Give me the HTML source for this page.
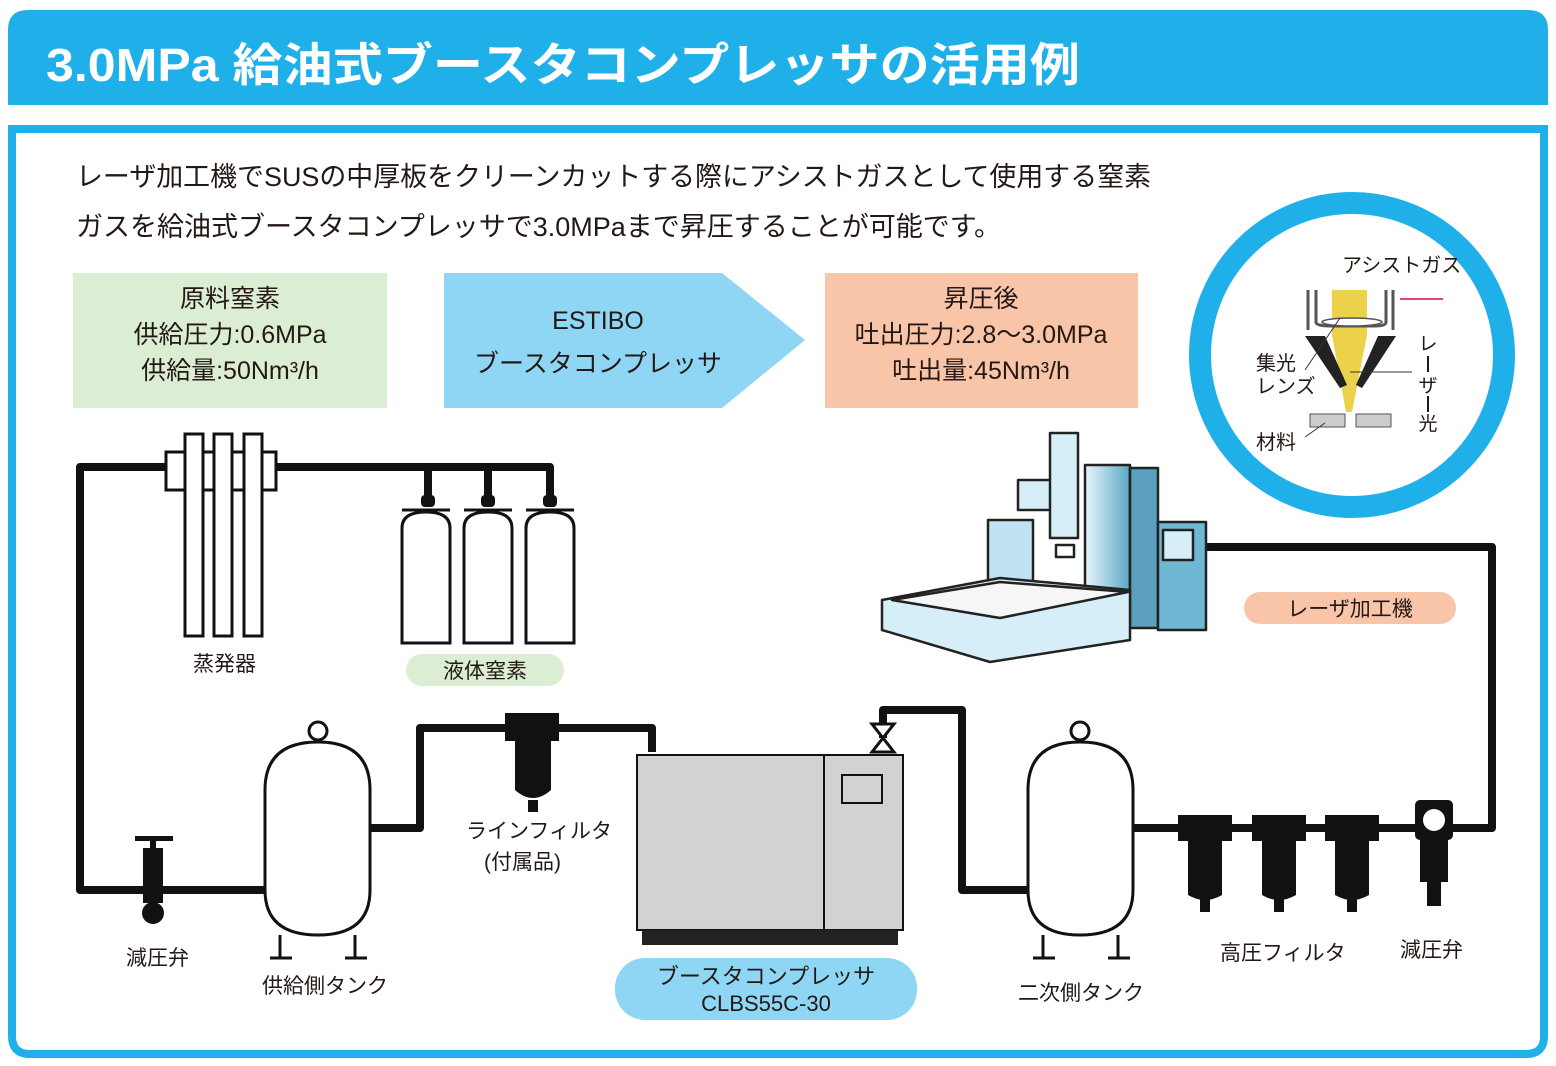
<!DOCTYPE html>
<html><head><meta charset="utf-8"><style>
body{margin:0;background:#fff}
svg{display:block}
text{font-family:"Liberation Sans","Noto Sans CJK JP",sans-serif}
</style></head><body>
<svg width="1556" height="1066" viewBox="0 0 1556 1066" xmlns="http://www.w3.org/2000/svg">
<defs>
<linearGradient id="mg" x1="0" x2="1"><stop offset="0" stop-color="#e8f6fc"/><stop offset="1" stop-color="#5aa6c4"/></linearGradient>
</defs>
<path d="M8 30 Q8 10 28 10 H1528 Q1548 10 1548 30 V105 H8 Z" fill="#1fb0ea"/>
<text x="46" y="81" font-size="46" font-weight="bold" fill="#fff" textLength="1034" lengthAdjust="spacingAndGlyphs">3.0MPa 給油式ブースタコンプレッサの活用例</text>
<path d="M12 129 H1544 V1036 Q1544 1054 1526 1054 H30 Q12 1054 12 1036 Z" fill="none" stroke="#1fb0ea" stroke-width="8"/>
<text x="76" y="186" font-size="27" fill="#231815" textLength="1075" lengthAdjust="spacingAndGlyphs">レーザ加工機でSUSの中厚板をクリーンカットする際にアシストガスとして使用する窒素</text>
<text x="76" y="236" font-size="27" fill="#231815" textLength="925" lengthAdjust="spacingAndGlyphs">ガスを給油式ブースタコンプレッサで3.0MPaまで昇圧することが可能です。</text>
<rect x="73" y="273" width="314" height="135" fill="#dbedd3"/>
<text font-size="25" fill="#231815" text-anchor="middle"><tspan x="230" y="307">原料窒素</tspan><tspan x="230" y="343">供給圧力:0.6MPa</tspan><tspan x="230" y="379">供給量:50Nm³/h</tspan></text>
<path d="M444 273 H722 L805 340 L722 408 H444 Z" fill="#8fd6f5"/>
<text font-size="25" fill="#231815" text-anchor="middle"><tspan x="598" y="329">ESTIBO</tspan><tspan x="598" y="372">ブースタコンプレッサ</tspan></text>
<rect x="825" y="273" width="313" height="135" fill="#f9c5a8"/>
<text font-size="25" fill="#231815" text-anchor="middle"><tspan x="981" y="307">昇圧後</tspan><tspan x="981" y="343">吐出圧力:2.8〜3.0MPa</tspan><tspan x="981" y="379">吐出量:45Nm³/h</tspan></text>
<circle cx="1352" cy="355" r="152" fill="#fff" stroke="#1fb0ea" stroke-width="22"/>
<text x="1342" y="272" font-size="20" fill="#231815">アシストガス</text>
<polygon points="1332,290 1367,290 1367,335 1352,412 1346,412 1332,335" fill="#ecd14a"/>
<path d="M1308 290 V330 M1316 290 V322 Q1316 326 1330 326 H1375 Q1386 326 1386 322 V290 M1393 290 V330" stroke="#555" stroke-width="3" fill="none"/>
<ellipse cx="1352" cy="322" rx="30" ry="4" fill="#fff" stroke="#555" stroke-width="1.5"/>
<polygon points="1305,336 1325,336 1347,385 1340,388" fill="#222"/>
<polygon points="1378,336 1396,336 1362,388 1356,385" fill="#222"/>
<line x1="1400" y1="299" x2="1443" y2="299" stroke="#e0408a" stroke-width="2"/>
<rect x="1310" y="414" width="35" height="13" fill="#ccc" stroke="#555"/>
<rect x="1356" y="414" width="35" height="13" fill="#ccc" stroke="#555"/>
<text x="1256" y="370" font-size="20" fill="#231815">集光</text>
<text x="1256" y="393" font-size="20" fill="#231815">レンズ</text>
<text x="1256" y="449" font-size="20" fill="#231815">材料</text>
<line x1="1305" y1="370" x2="1340" y2="318" stroke="#333"/>
<line x1="1305" y1="437" x2="1325" y2="423" stroke="#333"/>
<line x1="1350" y1="372" x2="1412" y2="372" stroke="#333"/>
<text font-size="19" fill="#231815" text-anchor="middle"><tspan x="1428" y="350">レ</tspan><tspan x="1428" y="392">ザ</tspan><tspan x="1428" y="430">光</tspan></text>
<path d="M1428 356 V372 M1428 396 V412" stroke="#231815" stroke-width="2"/>
<g fill="none" stroke="#111" stroke-width="8" stroke-linejoin="round">
<path d="M550 495 V467 H80 V890 H265"/>
<path d="M428 500 V467 M488 500 V467"/>
<path d="M370 828 H420 V728 H652 V752"/>
<path d="M883 738 V710 H962 V890 H1028"/>
<path d="M1133 828 H1492 V547 H1205"/>
</g>
<g fill="#fff" stroke="#111" stroke-width="3">
<rect x="166" y="452" width="110" height="38"/>
<rect x="185" y="434" width="18" height="202"/>
<rect x="214" y="434" width="18" height="202"/>
<rect x="244" y="434" width="18" height="202"/>
</g>
<text x="193" y="671" font-size="21" fill="#231815">蒸発器</text>
<g fill="#fff" stroke="#111" stroke-width="3">
<path d="M402 643 V528 Q402 512 426 512 Q450 512 450 528 V643 Z"/>
<path d="M464 643 V528 Q464 512 488 512 Q512 512 512 528 V643 Z"/>
<path d="M526 643 V528 Q526 512 550 512 Q574 512 574 528 V643 Z"/>
<path d="M402 510 H450 M464 510 H512 M526 510 H574"/>
</g>
<g fill="#111"><rect x="421" y="495" width="14" height="12" rx="4"/><rect x="481" y="495" width="14" height="12" rx="4"/><rect x="543" y="495" width="14" height="12" rx="4"/></g>
<rect x="406" y="654" width="158" height="32" rx="16" fill="#dbedd3"/>
<text x="485" y="678" font-size="21" fill="#231815" text-anchor="middle">液体窒素</text>
<g fill="#fff" stroke="#111" stroke-width="3">
<path d="M265 790 Q265 742 318 742 Q370 742 370 790 V890 Q370 935 318 935 Q265 935 265 890 Z"/>
<circle cx="318" cy="731" r="9"/>
<path d="M280 935 V958 M355 935 V958 M270 958 H292 M345 958 H367"/>
<path d="M1028 790 Q1028 742 1080 742 Q1133 742 1133 790 V890 Q1133 935 1080 935 Q1028 935 1028 890 Z"/>
<circle cx="1080" cy="731" r="9"/>
<path d="M1043 935 V958 M1118 935 V958 M1033 958 H1055 M1108 958 H1130"/>
</g>
<rect x="135" y="836" width="38" height="5" fill="#111"/>
<rect x="150" y="838" width="6" height="10" fill="#111"/>
<rect x="143" y="848" width="20" height="55" fill="#111"/>
<circle cx="153" cy="913" r="11" fill="#111"/>
<text x="126" y="965" font-size="21" fill="#231815">減圧弁</text>
<text x="262" y="993" font-size="21" fill="#231815">供給側タンク</text>
<rect x="505" y="713" width="54" height="28" fill="#111"/>
<path d="M515 741 H551 V790 Q533 806 515 790 Z" fill="#111"/>
<rect x="528" y="800" width="10" height="12" fill="#111"/>
<text x="466" y="838" font-size="21" fill="#231815">ラインフィルタ</text>
<text x="484" y="869" font-size="21" fill="#231815">(付属品)</text>
<rect x="637" y="755" width="266" height="175" fill="#d2d2d2" stroke="#111" stroke-width="2"/>
<line x1="824" y1="755" x2="824" y2="930" stroke="#111" stroke-width="2"/>
<rect x="842" y="775" width="40" height="28" fill="none" stroke="#111" stroke-width="2"/>
<rect x="642" y="930" width="256" height="15" fill="#222"/>
<path d="M872 724 L894 724 L872 752 L894 752 Z" fill="#fff" stroke="#111" stroke-width="3"/>
<rect x="615" y="958" width="302" height="62" rx="30" fill="#8fd6f5"/>
<text x="766" y="984" font-size="22" fill="#231815" text-anchor="middle">ブースタコンプレッサ</text>
<text x="766" y="1011" font-size="22" fill="#231815" text-anchor="middle">CLBS55C-30</text>
<text x="1018" y="1000" font-size="21" fill="#231815">二次側タンク</text>
<g fill="#111">
<rect x="1178" y="815" width="54" height="26"/><path d="M1188 841 H1222 V895 Q1205 905 1188 895 Z"/><rect x="1200" y="898" width="10" height="14"/>
<rect x="1252" y="815" width="54" height="26"/><path d="M1262 841 H1296 V895 Q1279 905 1262 895 Z"/><rect x="1274" y="898" width="10" height="14"/>
<rect x="1325" y="815" width="54" height="26"/><path d="M1335 841 H1369 V895 Q1352 905 1335 895 Z"/><rect x="1347" y="898" width="10" height="14"/>
<rect x="1415" y="800" width="38" height="40" rx="5"/><path d="M1420 840 H1448 V882 H1420 Z"/><rect x="1427" y="882" width="14" height="24"/>
</g>
<circle cx="1434" cy="820" r="11" fill="#fff"/>
<text x="1220" y="960" font-size="21" fill="#231815">高圧フィルタ</text>
<text x="1400" y="957" font-size="21" fill="#231815">減圧弁</text>
<g stroke="#222" stroke-width="2.5" stroke-linejoin="round">
<rect x="988" y="520" width="45" height="85" fill="#bfe3f2"/>
<rect x="1018" y="480" width="45" height="30" fill="#d6eef8"/>
<rect x="1085" y="465" width="45" height="155" fill="url(#mg)"/>
<rect x="1130" y="468" width="28" height="160" fill="#5a9fbd"/>
<rect x="1158" y="522" width="48" height="108" fill="#6fb7d2"/>
<rect x="1163" y="530" width="30" height="30" fill="#d6eef8"/>
<rect x="1050" y="433" width="28" height="105" fill="#d6eef8"/>
<rect x="1056" y="545" width="18" height="12" fill="#fff"/>
<path d="M882 600 L1000 578 L1130 590 V640 L990 662 L882 630 Z" fill="#d6eef8"/>
<path d="M892 600 L1000 582 L1128 592 L1000 618 Z" fill="#f6f6f6"/>
</g>
<rect x="1244" y="592" width="212" height="32" rx="16" fill="#f9c5a8"/>
<text x="1350" y="616" font-size="21" fill="#231815" text-anchor="middle">レーザ加工機</text>
</svg>
</body></html>
